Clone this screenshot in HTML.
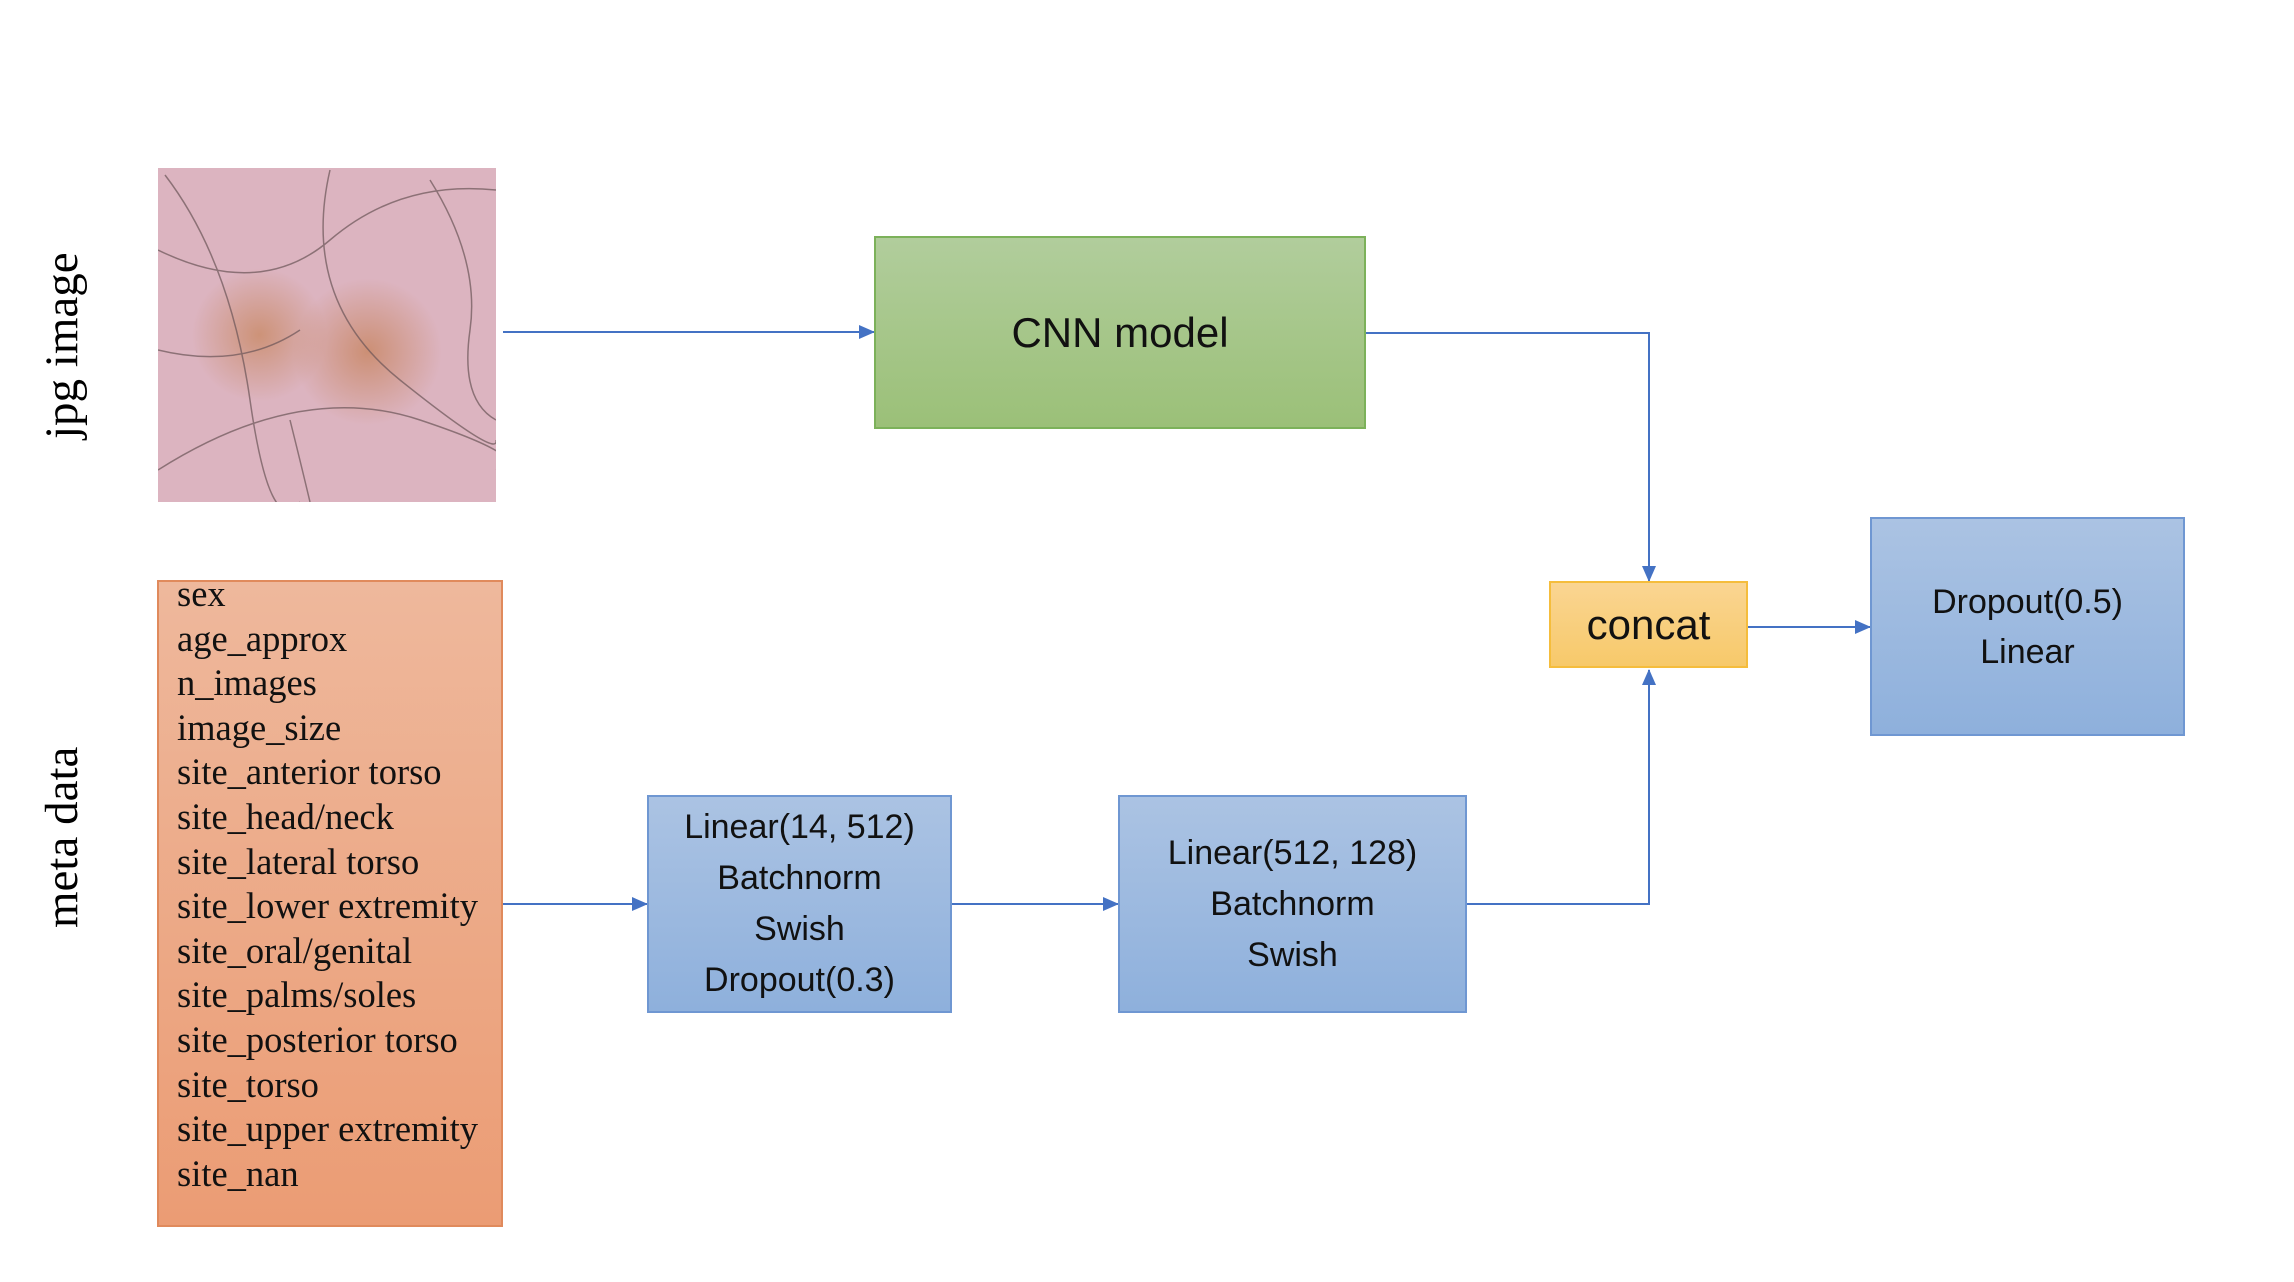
<!DOCTYPE html>
<html><head><meta charset="utf-8"><style>
body{margin:0;width:2294px;height:1282px;background:#fff;position:relative;overflow:hidden;font-family:"Liberation Sans",sans-serif}
.box{position:absolute;box-sizing:border-box;display:flex;flex-direction:column;justify-content:center;align-items:center;text-align:center;color:#111}
.blue{background:linear-gradient(#abc3e3,#8eb0dc);border:2px solid #6f97d2}
.rot{position:absolute;font-family:"Liberation Serif",serif;font-size:47px;transform:rotate(-90deg);white-space:nowrap;transform-origin:center}
.meta{font-family:"Liberation Serif",serif;font-size:36.5px;line-height:44.6px;color:#111}
</style></head><body>
<svg width="2294" height="1282" style="position:absolute;left:0;top:0">
<defs>
<radialGradient id="s1" cx="0.3" cy="0.5" r="0.2"><stop offset="0" stop-color="#c98a66" stop-opacity="0.8"/><stop offset="1" stop-color="#c98a66" stop-opacity="0"/></radialGradient>
<radialGradient id="s2" cx="0.62" cy="0.55" r="0.22"><stop offset="0" stop-color="#c88662" stop-opacity="0.8"/><stop offset="1" stop-color="#c88662" stop-opacity="0"/></radialGradient>
<clipPath id="c"><rect x="158" y="168" width="338" height="334"/></clipPath>
<marker id="b" markerWidth="16" markerHeight="14" refX="15" refY="7" orient="auto" markerUnits="userSpaceOnUse"><path d="M0,0 L16,7 L0,14 z" fill="#4472c4"/></marker>
</defs>
<rect x="158" y="168" width="338" height="334" fill="#dcb4c0"/>
<rect x="158" y="168" width="338" height="334" fill="url(#s1)"/>
<rect x="158" y="168" width="338" height="334" fill="url(#s2)"/>
<g stroke="#6b5558" stroke-width="1.5" fill="none" opacity="0.7" clip-path="url(#c)">
<path d="M165,175 Q230,260 250,400 T300,502"/>
<path d="M158,250 Q260,300 330,240 T496,190"/>
<path d="M158,350 Q240,370 300,330"/>
<path d="M158,470 Q300,380 420,420 T496,470"/>
<path d="M330,170 Q300,300 400,380 T496,440"/>
<path d="M430,180 Q480,260 470,330 T496,420"/>
<path d="M290,420 Q300,460 310,502"/>
</g>
<g stroke="#4472c4" stroke-width="2" fill="none">
<line x1="503" y1="332" x2="874" y2="332" marker-end="url(#b)"/>
<polyline points="1366,333 1649,333 1649,581" marker-end="url(#b)"/>
<line x1="503" y1="904" x2="647" y2="904" marker-end="url(#b)"/>
<line x1="952" y1="904" x2="1118" y2="904" marker-end="url(#b)"/>
<polyline points="1467,904 1649,904 1649,670" marker-end="url(#b)"/>
<line x1="1748" y1="627" x2="1870" y2="627" marker-end="url(#b)"/>
</g>
</svg>
<div class="rot" style="left:-28px;top:322px;width:180px;text-align:center">jpg image</div>
<div class="rot" style="left:-28px;top:811px;width:180px;text-align:center">meta data</div>
<div class="box" style="left:157px;top:580px;width:346px;height:647px;background:linear-gradient(#eeb89c,#eb9c74);border:2px solid #e08a5c;align-items:flex-start;justify-content:flex-start;padding-left:18px">
<div class="meta" style="margin-top:-10px;text-align:left">sex<br>age_approx<br>n_images<br>image_size<br>site_anterior torso<br>site_head/neck<br>site_lateral torso<br>site_lower extremity<br>site_oral/genital<br>site_palms/soles<br>site_posterior torso<br>site_torso<br>site_upper extremity<br>site_nan</div></div>
<div class="box" style="left:874px;top:236px;width:492px;height:193px;background:linear-gradient(#b1cd9c,#9bc078);border:2px solid #7cb15a;font-size:42px">CNN model</div>
<div class="box blue" style="left:647px;top:795px;width:305px;height:218px;font-size:34px;line-height:51px">Linear(14, 512)<br>Batchnorm<br>Swish<br>Dropout(0.3)</div>
<div class="box blue" style="left:1118px;top:795px;width:349px;height:218px;font-size:34px;line-height:51px">Linear(512, 128)<br>Batchnorm<br>Swish</div>
<div class="box" style="left:1549px;top:581px;width:199px;height:87px;background:linear-gradient(#fad592,#f7c96a);border:2px solid #f5bd3c;font-size:42px">concat</div>
<div class="box blue" style="left:1870px;top:517px;width:315px;height:219px;font-size:34px;line-height:50px">Dropout(0.5)<br>Linear</div>
</body></html>
